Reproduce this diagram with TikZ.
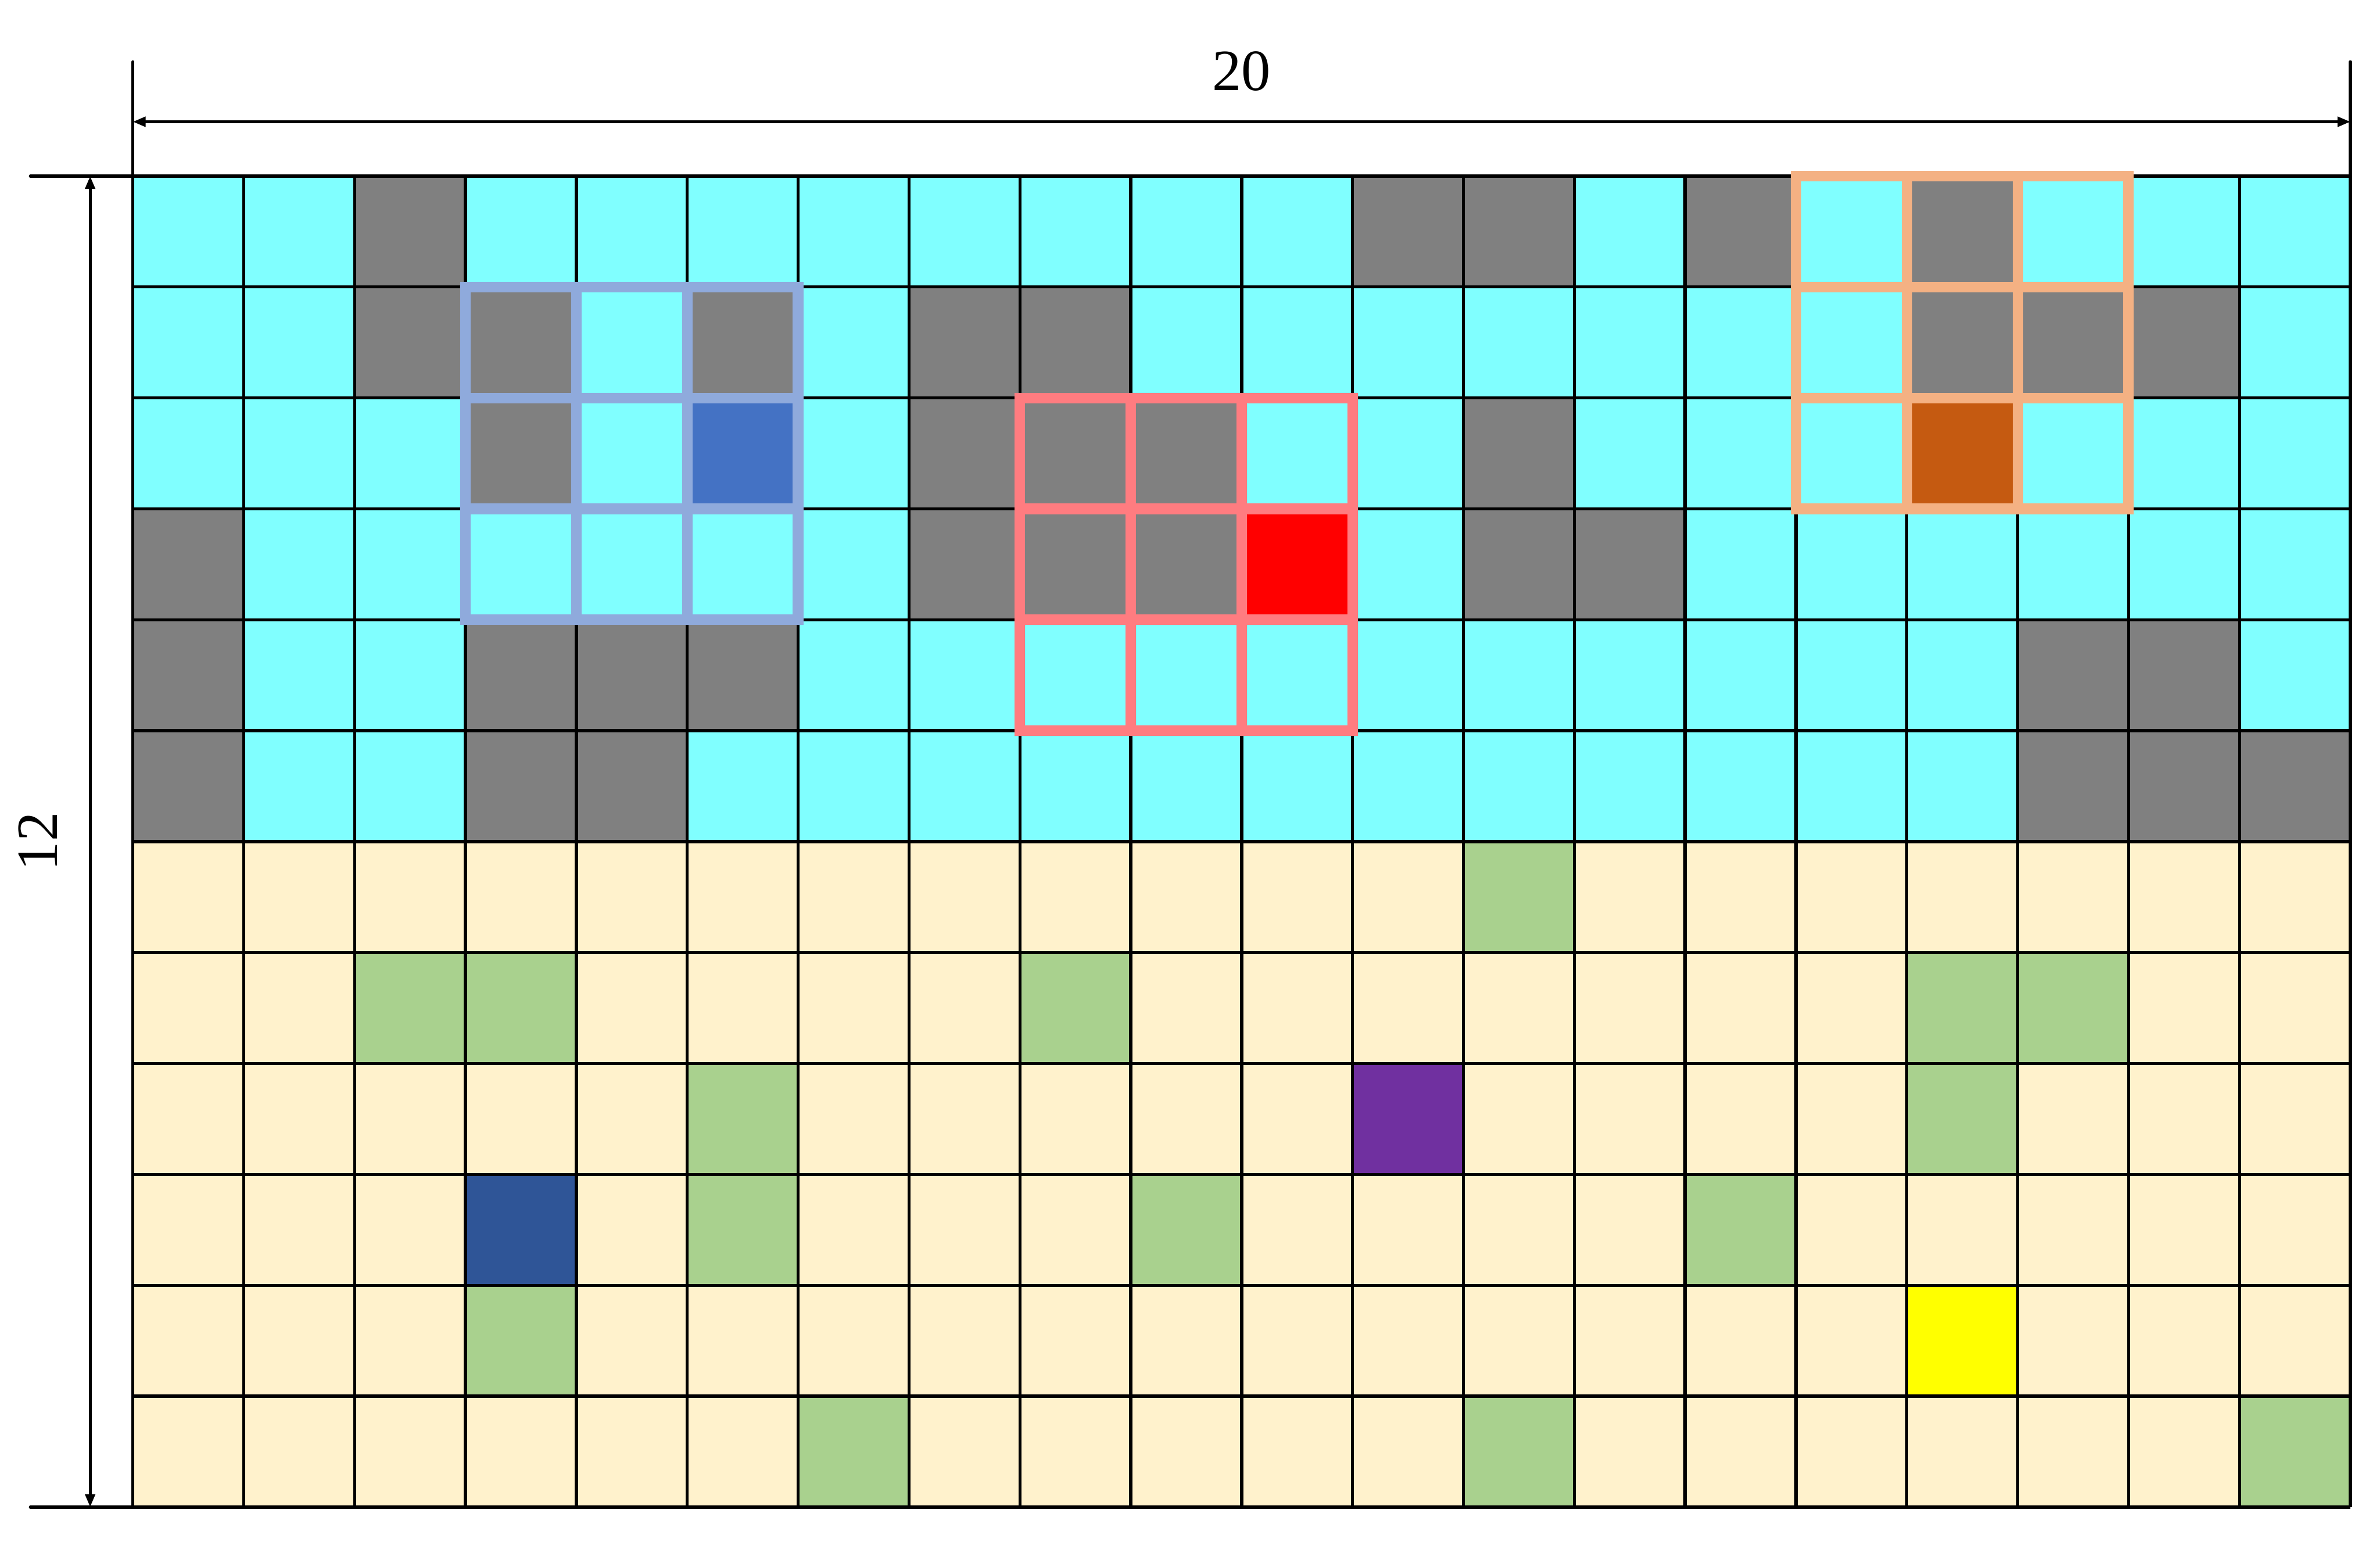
\documentclass[tikz,border=0pt]{standalone}
\usepackage{fontspec}
\setmainfont{Liberation Serif}
\usetikzlibrary{arrows.meta}
\definecolor{water}{HTML}{80FFFF}
\definecolor{rock}{HTML}{808080}
\definecolor{sand}{HTML}{FFF2CC}
\definecolor{grass}{HTML}{A9D18E}
\definecolor{agentblue}{HTML}{4472C4}
\definecolor{agentred}{HTML}{FF0000}
\definecolor{agentbrown}{HTML}{C55A11}
\definecolor{goalpurple}{HTML}{7030A0}
\definecolor{goalblue}{HTML}{2F5597}
\definecolor{goalyellow}{HTML}{FFFF00}
\definecolor{viewblue}{HTML}{8FAADC}
\definecolor{viewred}{HTML}{FF7C80}
\definecolor{vieworange}{HTML}{F4B183}

\begin{document}
\begin{tikzpicture}[
  gridline/.style={draw=black, line width=0.8pt},
  extline/.style={draw=black, line width=0.8pt, line cap=round},
  dimline/.style={draw=black, line width=0.75pt,
    {Triangle[length=3.3pt,width=2.5pt]}-{Triangle[length=3.3pt,width=2.5pt]}},
  viewbox/.style={line width=2.7pt, line cap=rect},
  every node/.style={font=\fontsize{15}{18}\selectfont, inner sep=0pt}
]
\useasboundingbox (-1.198,-0.375) rectangle (20.267,13.588);

% two regions
\fill[water] (0,6) rectangle (20,12);
\fill[sand] (0,0) rectangle (20,6);

% obstacles in the upper region
\foreach \x/\y in {2/11,11/11,12/11,14/11,16/11,
                   2/10,3/10,5/10,7/10,8/10,16/10,17/10,18/10,
                   3/9,7/9,8/9,9/9,12/9,
                   0/8,7/8,8/8,9/8,12/8,13/8,
                   0/7,3/7,4/7,5/7,17/7,18/7,
                   0/6,3/6,4/6,17/6,18/6,19/6}
  \fill[rock] (\x,\y) rectangle ++(1,1);

% green cells in the lower region
\foreach \x/\y in {12/5,2/4,3/4,8/4,16/4,17/4,5/3,16/3,
                   5/2,9/2,14/2,3/1,6/0,12/0,19/0}
  \fill[grass] (\x,\y) rectangle ++(1,1);

% agents and targets
\fill[agentblue] (5,9) rectangle ++(1,1);
\fill[agentred] (10,8) rectangle ++(1,1);
\fill[agentbrown] (16,9) rectangle ++(1,1);
\fill[goalpurple] (11,3) rectangle ++(1,1);
\fill[goalblue] (3,2) rectangle ++(1,1);
\fill[goalyellow] (16,1) rectangle ++(1,1);

\draw[gridline] (0,0) grid (20,12);

% fields of view
\draw[viewbox, draw=viewblue] (3,8) grid (6,11);
\draw[viewbox, draw=viewred] (8,7) grid (11,10);
\draw[viewbox, draw=vieworange] (15,9) grid (18,12);

% dimensions
\coordinate (g00) at (0,0);
\coordinate (g01) at (0,12);
\coordinate (g11) at (20,12);
\coordinate (xl) at (0,13.03);
\coordinate (xr) at (20,13.03);
\coordinate (yb) at (-0.924,0);
\coordinate (yt) at (-0.924,12);
\coordinate (wl) at (0,12.49);
\coordinate (wr) at (20,12.49);
\coordinate (hb) at (-0.385,0);
\coordinate (ht) at (-0.385,12);
\draw[extline] (g01) -- (xl);
\draw[extline] (g11) -- (xr);
\draw[extline] (yt) -- (g01);
\draw[extline] (yb) -- (g00);
\draw[dimline] (wl) -- (wr);
\draw[dimline] (hb) -- (ht);
\node (width) at (10,12.945) {20};
\node[rotate=90] (height) at (-0.855,6) {12};
\end{tikzpicture}
\end{document}
